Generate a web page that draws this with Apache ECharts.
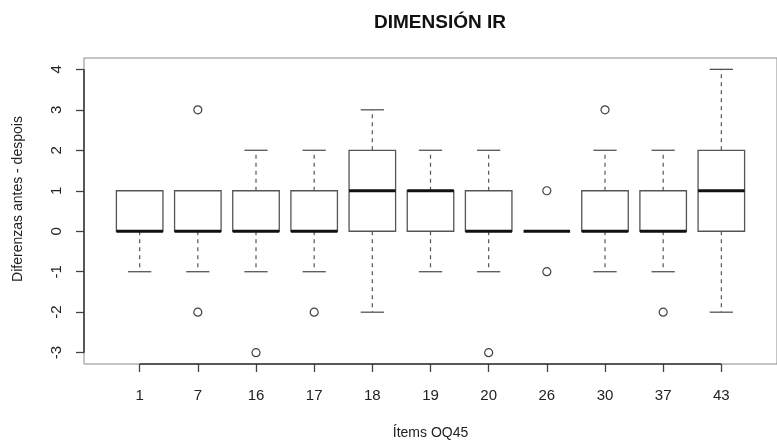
<!DOCTYPE html>
<html>
<head>
<meta charset="utf-8">
<script src="https://cdn.jsdelivr.net/npm/echarts@6/dist/echarts.min.js"></script>
<style>
html,body{margin:0;padding:0;background:#fff;}
#chart{width:777px;height:448px;}
</style>
</head>
<body>
<div id="chart"></div>
<script>
const categories = ['1','7','16','17','18','19','20','26','30','37','43'];
const whiskerLow  = [-1,-1,-1,-1,-2,-1,-1, 0,-1,-1,-2];
const q1          = [ 0, 0, 0, 0, 0, 0, 0, 0, 0, 0, 0];
const medians     = [ 0, 0, 0, 0, 1, 1, 0, 0, 0, 0, 1];
const q3          = [ 1, 1, 1, 1, 2, 1, 1, 0, 1, 1, 2];
const whiskerHigh = [ 1, 1, 2, 2, 3, 2, 2, 0, 2, 2, 4];
const outlierCategory = ['7','7','16','17','20','26','26','30','37'];
const outlierValue    = [ 3, -2, -3, -2, -3,  1, -1,  3, -2];
const yTicks = [-3,-2,-1,0,1,2,3,4];
const titleText = 'DIMENSIÓN IR';
const xTitle = 'Ítems OQ45';
const yTitle = 'Diferenzas antes - despois';

const FONT = 'Liberation Sans, Arial, sans-serif';
const X_MIN = 0.043, X_MAX = 11.957, Y_MIN = -3.28, Y_MAX = 4.28;
const xIdx = categories.map((c,i)=>i+1);
const boxData = categories.map((c,i)=>[i+1, whiskerLow[i], q1[i], medians[i], q3[i], whiskerHigh[i]]);
const outData = outlierCategory.map((c,i)=>[categories.indexOf(c)+1, outlierValue[i]]);
// R draws each axis line only between its first and last tick
const axisSegData = [
  [1, Y_MIN, categories.length, Y_MIN],
  [X_MIN, yTicks[0], X_MIN, yTicks[yTicks.length-1]]
];

const chart = echarts.init(document.getElementById('chart'), null, {renderer:'canvas'});

function boxRender(params, api){
  const x = api.value(0), lo = api.value(1), a = api.value(2), m = api.value(3), b = api.value(4), hi = api.value(5);
  const half = api.size([0.8, 0])[0] / 2;
  const cap = half / 2;
  const pLo = api.coord([x, lo]), pA = api.coord([x, a]), pM = api.coord([x, m]), pB = api.coord([x, b]), pHi = api.coord([x, hi]);
  const cx = pM[0];
  const dash = {stroke:'#555', lineWidth:1.2, lineDash:[4,4]};
  const solid = {stroke:'#555', lineWidth:1.3};
  const ch = [];
  if (b > a) ch.push({type:'rect', shape:{x:cx-half, y:pB[1], width:2*half, height:pA[1]-pB[1]}, style:{fill:'#fff', stroke:'#555', lineWidth:1.3}});
  if (hi > b) ch.push({type:'line', shape:{x1:cx, y1:pB[1], x2:cx, y2:pHi[1]}, style:dash});
  if (lo < a) ch.push({type:'line', shape:{x1:cx, y1:pA[1], x2:cx, y2:pLo[1]}, style:dash});
  if (hi > b) ch.push({type:'line', shape:{x1:cx-cap, y1:pHi[1], x2:cx+cap, y2:pHi[1]}, style:solid});
  if (lo < a) ch.push({type:'line', shape:{x1:cx-cap, y1:pLo[1], x2:cx+cap, y2:pLo[1]}, style:solid});
  ch.push({type:'line', shape:{x1:cx-half, y1:pM[1], x2:cx+half, y2:pM[1]}, style:{stroke:'#111', lineWidth:3.2}});
  return {type:'group', children:ch};
}

function segRender(params, api){
  const p1 = api.coord([api.value(0), api.value(1)]);
  const p2 = api.coord([api.value(2), api.value(3)]);
  return {type:'line', shape:{x1:p1[0], y1:p1[1], x2:p2[0], y2:p2[1]}, style:{stroke:'#333', lineWidth:1.5}};
}

chart.setOption({
  animation:false,
  backgroundColor:'#fff',
  title:{text:titleText, left:435, top:8, textAlign:'center',
    textStyle:{fontFamily:FONT, fontWeight:'bold', fontSize:19, color:'#111'}},
  grid:{left:84, right:-9, top:58, bottom:84, show:true, borderColor:'#8a8a8a', borderWidth:1, backgroundColor:'transparent'},
  xAxis:{type:'value', min:X_MIN, max:X_MAX, position:'bottom',
    name:xTitle, nameLocation:'middle', nameGap:62,
    nameTextStyle:{fontFamily:FONT, fontSize:14, color:'#222'},
    axisLine:{show:false, onZero:false}, splitLine:{show:false},
    axisTick:{show:true, length:8, lineStyle:{color:'#444', width:1.3}, customValues:xIdx},
    axisLabel:{show:true, margin:24, fontFamily:FONT, fontSize:15, color:'#222', customValues:xIdx,
      formatter:v=>categories[Math.round(v)-1]}
  },
  yAxis:{type:'value', min:Y_MIN, max:Y_MAX, position:'left',
    axisLine:{show:false, onZero:false}, splitLine:{show:false},
    axisTick:{show:true, length:8, lineStyle:{color:'#444', width:1.3}, customValues:yTicks},
    axisLabel:{show:true, rotate:90, margin:20, fontFamily:FONT, fontSize:15, color:'#222', customValues:yTicks,
      formatter:v=>String(v)}
  },
  graphic:[
    {type:'text', x:18, y:199, rotation:Math.PI/2,
      style:{text:yTitle, fontFamily:FONT, fontSize:14, fill:'#222', align:'center', verticalAlign:'middle'}}
  ],
  series:[
    {type:'custom', renderItem:segRender, data:axisSegData, clip:false, silent:true, z:5},
    {type:'custom', renderItem:boxRender, data:boxData, encode:{x:0, y:[1,2,3,4,5]}, clip:false, z:2},
    {type:'scatter', data:outData, symbol:'circle', symbolSize:8,
      itemStyle:{color:'#fff', borderColor:'#111', borderWidth:1.2}, z:3}
  ]
});
</script>
</body>
</html>
